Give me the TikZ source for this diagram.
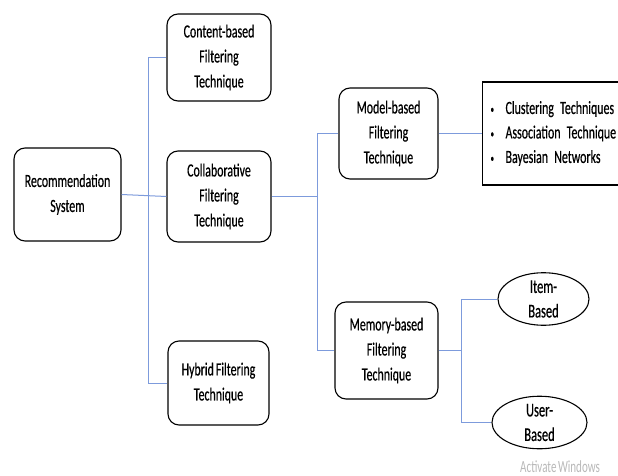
\documentclass[tikz,border=0pt]{standalone}
\usepackage{fontspec}
\setmainfont[FakeStretch=0.64, WordSpace=0.75, FakeBold=0.4]{Carlito}
\newfontfamily\wmfont[FakeStretch=0.65, WordSpace=0.6]{Carlito}
\usetikzlibrary{shapes.geometric}
\definecolor{linkblue}{RGB}{125,155,220}
\definecolor{wmgray}{RGB}{185,185,185}
\tikzset{
  stagebox/.style={draw=black, line width=1.1pt, rounded corners=11pt,
    align=center, inner sep=0pt,
    font=\fontsize{18.6}{25}\selectfont},
  leafoval/.style={draw=black, line width=1.1pt, ellipse, inner sep=0pt,
    align=center, font=\fontsize{19.5}{24.5}\selectfont},
  listbox/.style={draw=black, line width=1.1pt, rectangle, inner xsep=8pt,
    text width=135pt, align=left,
    font=\fontsize{18.6}{24.5}\selectfont},
  link/.style={draw=linkblue, line width=1pt},
}
\newcommand{\bulletitem}[1]{\makebox[15pt][l]{\raisebox{1pt}{\fontsize{11}{11}\selectfont\textbullet}}#1}
\begin{document}
\begin{tikzpicture}[x=1pt, y=-1pt]
  \clip (0,0) rectangle (618,476);
  \fill[white] (0,0) rectangle (618,476);

  % main technique boxes
  \node[stagebox, minimum width=107pt, minimum height=93pt] (rec) at (67.5,194.5)
    {Recommendation\\System};
  \node[stagebox, minimum width=104pt, minimum height=87pt] (content) at (219,57.5)
    {Content-based\\Filtering\\Technique};
  \node[stagebox, minimum width=104pt, minimum height=91pt] (collab) at (219,196.5)
    {Collaborative\\Filtering\\Technique};
  \node[stagebox, minimum width=101pt, minimum height=84pt] (hybrid) at (218.5,383)
    {Hybrid Filtering\\Technique};
  \node[stagebox, minimum width=99pt, minimum height=91pt] (model) at (388.5,133.5)
    {Model-based\\Filtering\\Technique};
  \node[stagebox, minimum width=103pt, minimum height=97pt] (memory) at (386.5,350.5)
    {Memory-based\\Filtering\\Technique};

  % model-based methods
  \node[listbox, minimum height=103pt, anchor=west] (methods) at (482,133.5)
    {\bulletitem{Clustering Techniques}\\
     \bulletitem{Association Technique}\\
     \bulletitem{Bayesian Networks}};

  % memory-based variants
  \node[leafoval, minimum width=91pt, minimum height=48pt] (item) at (543.5,299)
    {Item-\\Based};
  \node[leafoval, minimum width=95pt, minimum height=45pt] (user) at (539.5,422.5)
    {User-\\Based};

  % junction lines
  \coordinate (t1) at (148,0);
  \coordinate (t2) at (317,0);
  \coordinate (t3) at (461,0);

  \draw[link] (rec.east) -- (collab.west);
  \draw[link] (content.west) -| (t1 |- hybrid.west) -- (hybrid.west);
  \draw[link] (collab.east) -- (collab.east -| t2);
  \draw[link] (model.west) -| (t2 |- memory.west) -- (memory.west);
  \draw[link] (model.east) -- (methods.west);
  \draw[link] (memory.east) -- (memory.east -| t3);
  \draw[link] (item.west) -| (t3 |- user.west) -- (user.west);

  % system watermark along the lower edge
  \node[anchor=base west, text=wmgray, inner sep=0pt,
        font=\wmfont\fontsize{17}{19}\selectfont] (wm) at (520,472)
    {Activate Windows};
\end{tikzpicture}
\end{document}
